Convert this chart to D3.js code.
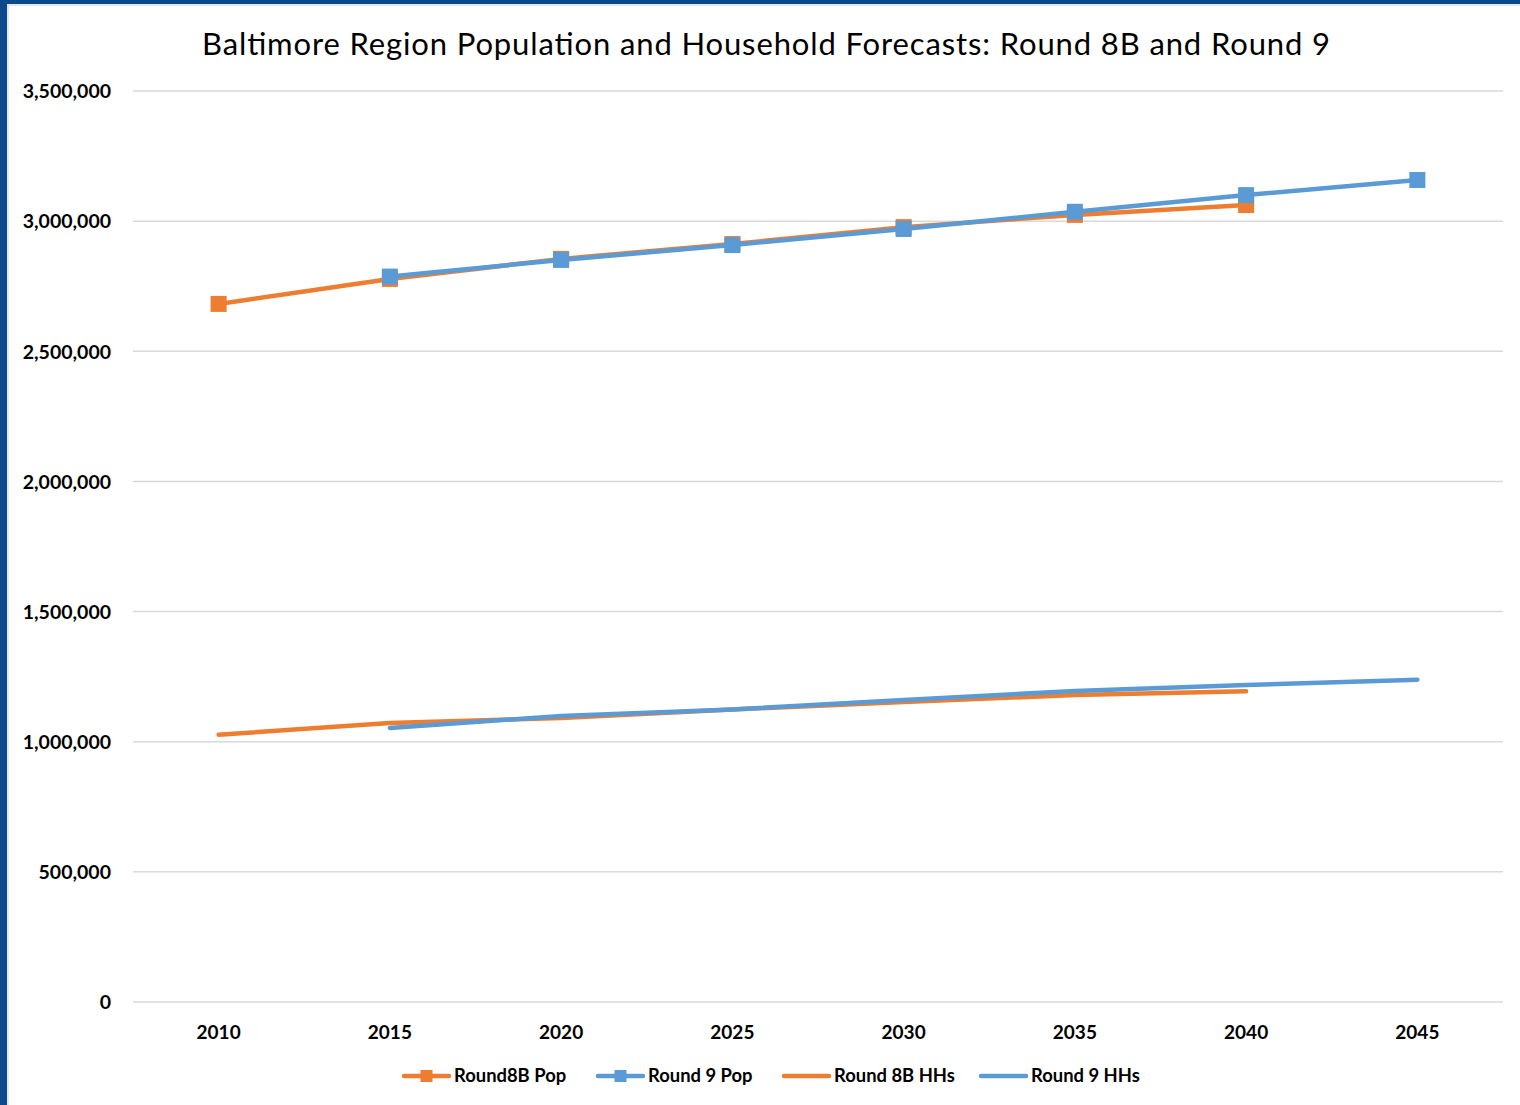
<!DOCTYPE html>
<html><head><meta charset="utf-8">
<script src="https://cdn.jsdelivr.net/npm/d3@7"></script>
<style>html,body{margin:0;padding:0;background:#fff;}svg{display:block;}</style>
</head><body>
<svg id="chart" width="1520" height="1105"></svg>
<script>
const years = [2010, 2015, 2020, 2025, 2030, 2035, 2040, 2045];
const round8BPop = [2682000, 2778000, 2855000, 2912000, 2977000, 3024000, 3062000, null];
const round9Pop  = [null, 2787000, 2851000, 2908000, 2970000, 3036000, 3100000, 3158000];
const round8BHH  = [1027000, 1072000, 1091000, 1124000, 1153000, 1179000, 1194000, null];
const round9HH   = [null, 1053000, 1099000, 1124000, 1160000, 1195000, 1218000, 1238000];
const yTicks = [0, 500000, 1000000, 1500000, 2000000, 2500000, 3000000, 3500000];
const seriesNames = ["Round8B Pop", "Round 9 Pop", "Round 8B HHs", "Round 9 HHs"];
const title = "Baltimore Region Population and Household Forecasts: Round 8B and Round 9";

(function(){
const ORANGE = "#ED7D31", BLUE = "#5B9BD5";
const series = [
  {name: seriesNames[0], values: round8BPop, color: ORANGE, marker: true},
  {name: seriesNames[1], values: round9Pop, color: BLUE, marker: true},
  {name: seriesNames[2], values: round8BHH, color: ORANGE, marker: false},
  {name: seriesNames[3], values: round9HH, color: BLUE, marker: false}
];

const svg = d3.select("#chart");
// frame decoration
svg.append("rect").attr("x",0).attr("y",0).attr("width",1520).attr("height",4).attr("fill","#0b4a8c");
svg.append("rect").attr("x",0).attr("y",4).attr("width",1520).attr("height",2).attr("fill","#e6e6e6");
svg.append("rect").attr("x",0).attr("y",0).attr("width",7).attr("height",1105).attr("fill","#0b4a8c");
svg.append("rect").attr("x",7).attr("y",4).attr("width",2).attr("height",1101).attr("fill","#e6e6e6");

const pLeft = 133, pRight = 1503, pTop = 91, pBottom = 1002;
const x = d3.scaleBand().domain(years).range([pLeft, pRight]);
const y = d3.scaleLinear().domain([0, 3500000]).range([pBottom, pTop]);
const cx = d => x(d) + x.bandwidth()/2;
const FONT = "Lato, 'Open Sans', sans-serif";

// gridlines
svg.append("g").selectAll("line").data(yTicks).join("line")
  .attr("x1", pLeft).attr("x2", pRight)
  .attr("y1", d => y(d)).attr("y2", d => y(d))
  .attr("stroke", "#d9d9d9").attr("stroke-width", 1.5);

// y axis
const yAxis = d3.axisLeft(y).tickValues(yTicks).tickSize(0).tickPadding(0)
  .tickFormat(d3.format(","));
const yg = svg.append("g").attr("transform", `translate(111,0)`).call(yAxis);
yg.select(".domain").remove();
yg.selectAll("text").attr("font-family", FONT)
  .attr("font-weight", "bold").attr("font-size", 19.5).attr("fill", "#000").attr("dy","0.35em");

// x axis
const xAxis = d3.axisBottom(x).tickSize(0).tickPadding(0);
const xg = svg.append("g").attr("transform", `translate(0,${pBottom + 30})`).call(xAxis);
xg.select(".domain").remove();
xg.selectAll("text").attr("font-family", FONT)
  .attr("font-weight", "bold").attr("font-size", 19).attr("fill", "#000").attr("dy","0.35em");

// title
svg.append("text").attr("x", 766).attr("y", 55).attr("text-anchor", "middle")
  .attr("font-family", FONT).attr("font-size", 31).attr("fill", "#000")
  .attr("textLength", 1128).attr("lengthAdjust","spacing")
  .text(title);

// lines
const line = d3.line().defined(d => d.v != null).x(d => cx(d.year)).y(d => y(d.v));
const drawOrder = [2, 3, 0, 1];
drawOrder.forEach(i => {
  const s = series[i];
  const pts = years.map((yr, j) => ({year: yr, v: s.values[j]}));
  svg.append("path").datum(pts).attr("d", line)
    .attr("fill", "none").attr("stroke", s.color).attr("stroke-width", 4.5)
    .attr("stroke-linecap", "round").attr("stroke-linejoin", "round");
  if (s.marker) {
    svg.append("g").selectAll("rect").data(pts.filter(d => d.v != null)).join("rect")
      .attr("x", d => cx(d.year) - 8).attr("y", d => y(d.v) - 8)
      .attr("width", 16).attr("height", 16).attr("fill", s.color);
  }
});

// legend
const legendX = [404, 598, 784, 981];
const ly = 1076;
series.forEach((s, i) => {
  const g = svg.append("g");
  g.append("line").attr("x1", legendX[i]).attr("x2", legendX[i] + 45)
    .attr("y1", ly).attr("y2", ly).attr("stroke", s.color).attr("stroke-width", 4.5)
    .attr("stroke-linecap", "round");
  if (s.marker) {
    g.append("rect").attr("x", legendX[i] + 22.5 - 6).attr("y", ly - 6)
      .attr("width", 12).attr("height", 12).attr("fill", s.color);
  }
  g.append("text").attr("x", legendX[i] + 50).attr("y", ly).attr("dy", "0.35em")
    .attr("font-family", FONT).attr("font-weight", "bold")
    .attr("font-size", 18.4).attr("fill", "#000").text(s.name);
});
})();
</script>
</body></html>
